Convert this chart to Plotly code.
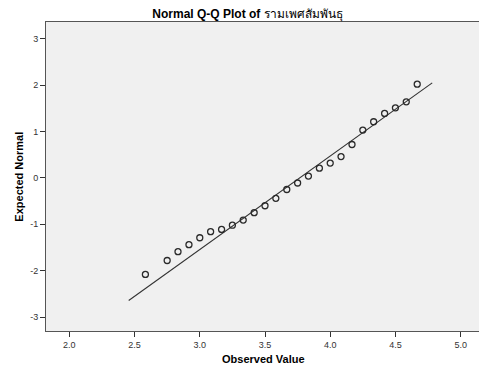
import plotly.graph_objects as go

observed = [2.583, 2.75, 2.833, 2.917, 3.0, 3.083, 3.167, 3.25, 3.333, 3.417,
            3.5, 3.583, 3.667, 3.75, 3.833, 3.917, 4.0, 4.083, 4.167, 4.25,
            4.333, 4.417, 4.5, 4.583, 4.667]
expected = [-2.08, -1.78, -1.59, -1.44, -1.29, -1.16, -1.11, -1.02, -0.91, -0.75,
            -0.60, -0.44, -0.25, -0.11, 0.04, 0.21, 0.32, 0.46, 0.72, 1.03,
            1.21, 1.39, 1.51, 1.64, 2.02]
line_x = [2.455, 4.782]
line_y = [-2.644, 2.047]

x_ticks = [2.0, 2.5, 3.0, 3.5, 4.0, 4.5, 5.0]
x_tick_text = ["2.0", "2.5", "3.0", "3.5", "4.0", "4.5", "5.0"]
y_ticks = [-3, -2, -1, 0, 1, 2, 3]
y_tick_text = ["-3", "-2", "-1", "0", "1", "2", "3"]

fig = go.Figure()
fig.add_trace(go.Scatter(x=line_x, y=line_y, mode="lines",
                         line=dict(color="#333333", width=1.1), hoverinfo="skip"))
fig.add_trace(go.Scatter(x=observed, y=expected, mode="markers",
                         marker=dict(symbol="circle-open", size=6, color="#2a2a2a",
                                     line=dict(width=1.3, color="#2a2a2a"))))

fig.update_layout(
    template="none",
    width=479, height=364,
    margin=dict(l=38, r=6, t=14, b=41, autoexpand=False),
    paper_bgcolor="white", plot_bgcolor="#F0F0F0",
    showlegend=False,
    font=dict(family="Liberation Sans, Arial, sans-serif", color="#222222"),
    title=dict(text="<b>Normal Q-Q Plot of </b>รามเพศสัมพันธุ", x=0.5, xanchor="center",
               y=0.985, yanchor="middle", font=dict(size=12, color="#000000")),
    xaxis=dict(range=[1.821, 5.156], tickvals=x_ticks, ticktext=x_tick_text,
               showgrid=False, zeroline=False, showline=True, linecolor="#555555",
               linewidth=1, mirror=True, ticks="outside", ticklen=5, tickcolor="#333333",
               tickfont=dict(size=9, color="#333333"), automargin=False),
    yaxis=dict(range=[-3.30, 3.36], tickvals=y_ticks, ticktext=y_tick_text,
               showgrid=False, zeroline=False, showline=True, linecolor="#555555",
               linewidth=1, mirror=True, ticks="outside", ticklen=5, tickcolor="#333333",
               tickfont=dict(size=9, color="#333333"), automargin=False),
    annotations=[
        dict(text="<b>Observed Value</b>", xref="paper", yref="paper", x=0.5, y=-0.092,
             xanchor="center", yanchor="middle", showarrow=False,
             font=dict(size=11, color="#000000")),
        dict(text="<b>Expected Normal</b>", xref="paper", yref="paper", x=-0.064, y=0.5,
             xanchor="center", yanchor="middle", showarrow=False, textangle=-90,
             font=dict(size=11, color="#000000")),
    ],
)

fig.write_html("out.html")
